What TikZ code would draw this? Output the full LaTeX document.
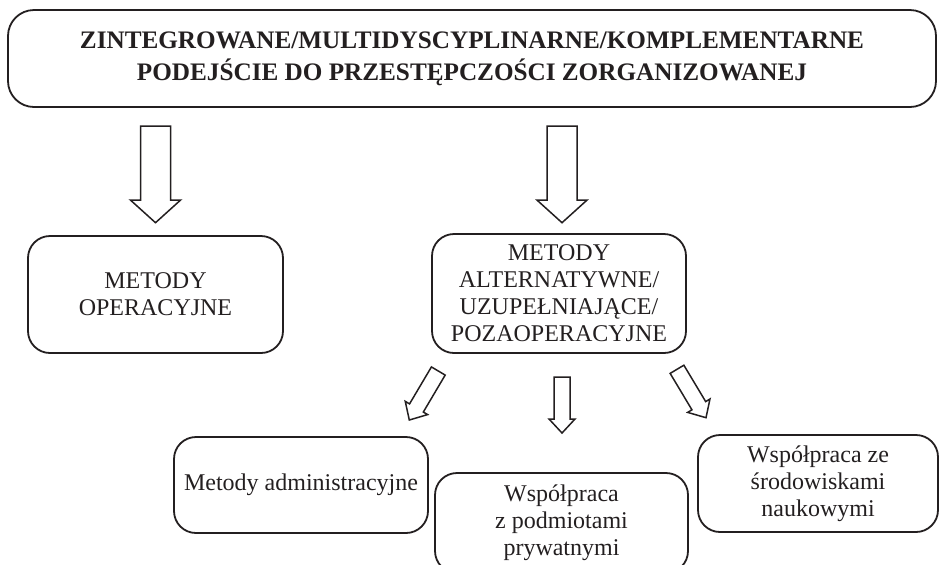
\documentclass[tikz,border=0pt]{standalone}
\usepackage{fontspec}
\setmainfont{Liberation Serif}
\usetikzlibrary{calc}

\definecolor{ink}{RGB}{35,31,32}

\tikzset{
    box/.style={draw=ink, text=ink, line width=0.9pt, rounded corners=11pt, align=center,
        inner sep=0pt, font=\fontsize{12}{13.5}\selectfont},
    fat/.style={draw=ink, line width=0.75pt, line join=miter}
}

\newcommand{\fatarrow}[5]{%
    \coordinate (fa-b) at ($(#2)!#5!(#1)$);
    \draw[fat] ($(#1)!#3!90:(#2)$) -- ($(fa-b)!#3!-90:(#1)$) -- ($(fa-b)!#4!-90:(#1)$) -- (#2)
        -- ($(fa-b)!#4!90:(#1)$) -- ($(fa-b)!#3!90:(#1)$) -- ($(#1)!#3!-90:(#2)$) -- cycle;}

\begin{document}
\begin{tikzpicture}[x=0.5pt,y=-0.5pt]
    \useasboundingbox (0,0) rectangle (941,564);
    \node[box, rounded corners=13pt, minimum width=464pt, minimum height=48.5pt,
        font=\bfseries\fontsize{12.6}{15.8}\selectfont] (head) at (472,58.5)
        {ZINTEGROWANE/MULTIDYSCYPLINARNE/KOMPLEMENTARNE\\PODEJŚCIE DO PRZESTĘPCZOŚCI ZORGANIZOWANEJ};
    \node[box, minimum width=127.5pt, minimum height=58.5pt] (oper) at (155.5,294.5) {METODY\\OPERACYJNE};
    \node[box, minimum width=127pt, minimum height=59.5pt] (alt) at (559,293.5)
        {METODY\\ALTERNATYWNE/\\UZUPEŁNIAJĄCE/\\POZAOPERACYJNE};
    \node[box, minimum width=127pt, minimum height=48pt] (admin) at (301,485) {Metody administracyjne};
    \node[box, minimum width=126.5pt, minimum height=50pt] (priv) at (561.5,523)
        {Współpraca\\z podmiotami\\prywatnymi};
    \node[box, minimum width=120pt, minimum height=48.5pt] (sci) at (818,483.5)
        {Współpraca ze\\środowiskami\\naukowymi};

    \coordinate (a1s) at (155.5,126);
    \coordinate (a1e) at (155.5,222.7);
    \coordinate (a2s) at (562,126);
    \coordinate (a2e) at (562,222.7);
    \coordinate (a3s) at (438.3,371);
    \coordinate (a3e) at (409.3,420);
    \coordinate (a4s) at (562,377);
    \coordinate (a4e) at (562,433);
    \coordinate (a5s) at (677,369.3);
    \coordinate (a5e) at (706,417.7);
    \fatarrow{a1s}{a1e}{7.5pt}{12.5pt}{11.3pt}
    \fatarrow{a2s}{a2e}{7.5pt}{12.5pt}{11.3pt}
    \fatarrow{a3s}{a3e}{4pt}{6.5pt}{7pt}
    \fatarrow{a4s}{a4e}{4pt}{6.5pt}{7pt}
    \fatarrow{a5s}{a5e}{4pt}{6.5pt}{7pt}
\end{tikzpicture}
\end{document}
